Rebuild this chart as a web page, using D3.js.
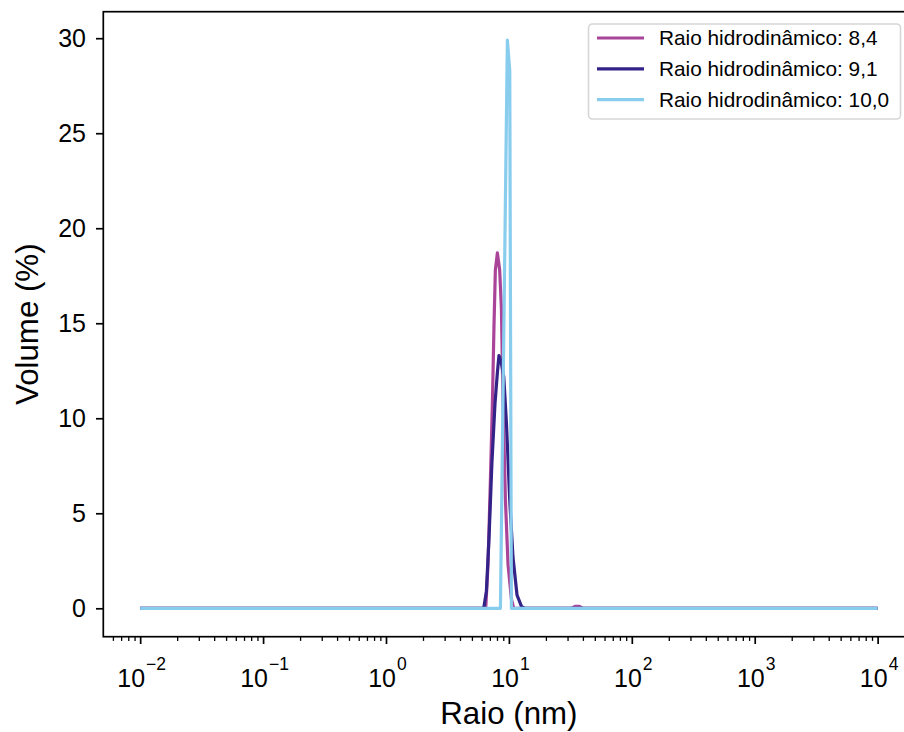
<!DOCTYPE html>
<html>
<head>
<meta charset="utf-8">
<script src="https://cdn.jsdelivr.net/npm/d3@7"></script>
<style>
  html, body { margin: 0; padding: 0; background: #fff; }
  svg { display: block; }
  text { font-family: "Liberation Sans", Arial, sans-serif; fill: #000; }
</style>
</head>
<body>
<svg id="chart" width="904" height="732"></svg>
<script>
// Distribuição de tamanho por volume (raio em nm, volume em %)
const raio84 = [0.01, 6.48, 6.76, 7.07, 7.34, 7.56, 7.76, 8.06, 8.41, 8.69, 8.96, 9.37, 9.84, 10.48, 10.94, 32.3, 34.5, 37.5, 40.1, 10000];
const vol84  = [0,    0,    2.3,  6.7,  10.8, 14.8, 17.8, 18.7, 17.8, 15.8, 10.8, 5.7,  2.3,  0.5,   0,     0,    0.1,  0.1,  0,    0];

const raio91 = [0.01, 6.24, 6.56, 6.89, 7.28, 7.71, 8.06, 8.30, 8.63, 9.08, 9.55, 10.16, 10.79, 11.64, 12.65, 13.45, 10000];
const vol91  = [0,    0,    0.9,  3.7,  7.7,  10.8, 12.4, 13.3, 13.0, 12.2, 9.75, 5.7,   2.7,   0.7,   0.1,   0,     0];

const raio100 = [0.01, 8.53, 9.72, 10.16, 10.48, 10000];
const vol100  = [0,    0,    29.9, 28.3,  0,     0];

const seriesNames = ["Raio hidrodinâmico: 8,4", "Raio hidrodinâmico: 9,1", "Raio hidrodinâmico: 10,0"];
const seriesColors = ["#AA4499", "#332288", "#88CCEE"];

const xTickExps = [-2, -1, 0, 1, 2, 3, 4];
const yTicks = [0, 5, 10, 15, 20, 25, 30];

const series = [
  { name: seriesNames[0], color: seriesColors[0], x: raio84, y: vol84 },
  { name: seriesNames[1], color: seriesColors[1], x: raio91, y: vol91 },
  { name: seriesNames[2], color: seriesColors[2], x: raio100, y: vol100 }
];

const svg = d3.select("#chart");
const plot = { left: 103.3, right: 914.5, top: 11.7, bottom: 636.7 };

// 5% margins around the data, as the axes were autoscaled
const xLo = Math.log10(d3.min(series, s => d3.min(s.x)));
const xHi = Math.log10(d3.max(series, s => d3.max(s.x)));
const xPad = (xHi - xLo) * 0.05;
const x = d3.scaleLog()
  .domain([Math.pow(10, xLo - xPad), Math.pow(10, xHi + xPad)])
  .range([plot.left, plot.right]);

const yMax = d3.max(series, s => d3.max(s.y));
const yPad = yMax * 0.05;
const y = d3.scaleLinear()
  .domain([-yPad, yMax + yPad])
  .range([plot.bottom, plot.top]);

// Lines
const line = d3.line().x(d => x(d[0])).y(d => y(d[1]));
const lineG = svg.append("g");
series.forEach(s => {
  lineG.append("path")
    .datum(s.x.map((v, i) => [v, s.y[i]]))
    .attr("d", line)
    .attr("fill", "none")
    .attr("stroke", s.color)
    .attr("stroke-width", 3.2)
    .attr("stroke-linejoin", "round")
    .attr("stroke-linecap", "butt");
});

// Minor ticks on the log axis
const minorVals = [];
for (let e = -3; e <= 4; e++) {
  for (let m = 2; m <= 9; m++) {
    const v = m * Math.pow(10, e);
    if (v >= x.domain()[0] && v <= x.domain()[1]) minorVals.push(v);
  }
}
const xMinor = d3.axisBottom(x).tickValues(minorVals).tickSize(4.2).tickFormat("");
svg.append("g")
  .attr("transform", `translate(0,${plot.bottom})`)
  .call(xMinor)
  .call(g => g.select(".domain").remove())
  .call(g => g.selectAll("line").attr("stroke", "#000").attr("stroke-width", 1.3));

// Major x ticks with power-of-ten labels
const xMajor = d3.axisBottom(x)
  .tickValues(xTickExps.map(e => Math.pow(10, e)))
  .tickSize(7.3)
  .tickFormat("");
svg.append("g")
  .attr("transform", `translate(0,${plot.bottom})`)
  .call(xMajor)
  .call(g => g.select(".domain").remove())
  .call(g => g.selectAll("line").attr("stroke", "#000").attr("stroke-width", 1.7));

xTickExps.forEach(e => {
  const t = svg.append("text")
    .attr("x", x(Math.pow(10, e)) + 1.5)
    .attr("y", 687)
    .attr("text-anchor", "middle")
    .attr("font-size", 25);
  t.append("tspan").text("10");
  t.append("tspan")
    .attr("font-size", 17.5)
    .attr("dy", -17)
    .attr("dx", 1)
    .text(e < 0 ? "\u2212" + Math.abs(e) : String(e));
});

// Y axis
const yAxis = d3.axisLeft(y).tickValues(yTicks).tickSize(7.3).tickPadding(10).tickFormat(d3.format("d"));
svg.append("g")
  .attr("transform", `translate(${plot.left},0)`)
  .call(yAxis)
  .call(g => g.select(".domain").remove())
  .call(g => g.selectAll("line").attr("stroke", "#000").attr("stroke-width", 1.7))
  .call(g => g.selectAll("text")
    .attr("font-size", 25)
    .attr("font-family", "'Liberation Sans', Arial, sans-serif")
    .attr("fill", "#000"));

// Frame
svg.append("rect")
  .attr("x", plot.left)
  .attr("y", plot.top)
  .attr("width", plot.right - plot.left)
  .attr("height", plot.bottom - plot.top)
  .attr("fill", "none")
  .attr("stroke", "#000")
  .attr("stroke-width", 1.7);

// Axis titles
svg.append("text")
  .attr("x", (plot.left + plot.right) / 2)
  .attr("y", 724)
  .attr("text-anchor", "middle")
  .attr("font-size", 31.25)
  .text("Raio (nm)");

svg.append("text")
  .attr("transform", `translate(38,${(plot.top + plot.bottom) / 2}) rotate(-90)`)
  .attr("text-anchor", "middle")
  .attr("font-size", 31.25)
  .text("Volume (%)");

// Legend
const leg = svg.append("g");
leg.append("rect")
  .attr("x", 588.5).attr("y", 24)
  .attr("width", 312).attr("height", 95)
  .attr("rx", 4).attr("ry", 4)
  .attr("fill", "#fff").attr("fill-opacity", 0.8)
  .attr("stroke", "#d6d6d6").attr("stroke-width", 1.6);
series.forEach((s, i) => {
  const cy = 38 + i * 30.8;
  leg.append("line")
    .attr("x1", 597).attr("x2", 644)
    .attr("y1", cy).attr("y2", cy)
    .attr("stroke", s.color).attr("stroke-width", 3.2);
  leg.append("text")
    .attr("x", 659).attr("y", cy)
    .attr("dy", "0.36em")
    .attr("font-size", 20.8)
    .text(s.name);
});
</script>
</body>
</html>
